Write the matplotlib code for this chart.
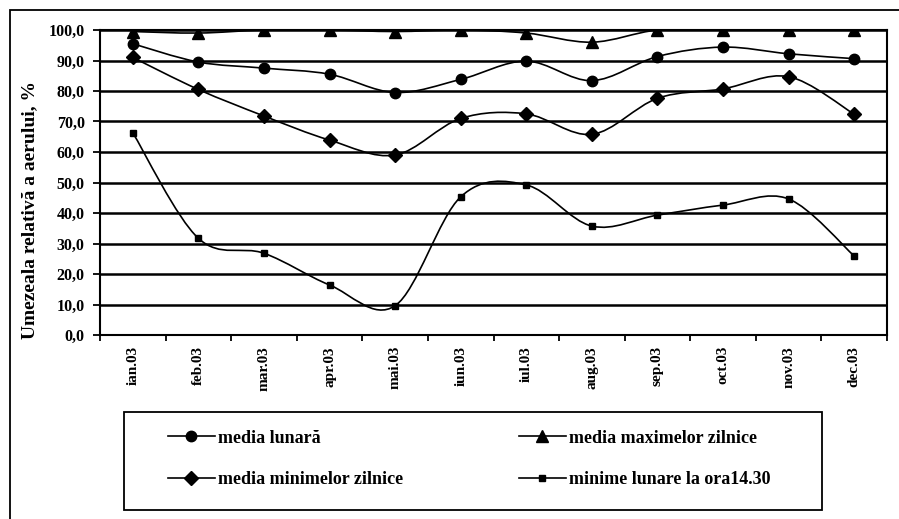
import matplotlib
matplotlib.use("Agg")
import matplotlib.pyplot as plt
import numpy as np
from matplotlib.path import Path
from matplotlib.patches import PathPatch, Rectangle
from matplotlib.lines import Line2D

luni = ["ian.03", "feb.03", "mar.03", "apr.03", "mai.03", "iun.03",
        "iul.03", "aug.03", "sep.03", "oct.03", "nov.03", "dec.03"]

media_lunara = [95.5, 89.5, 87.5, 85.5, 79.5, 83.8, 89.8, 83.4, 91.3, 94.4, 92.2, 90.6]
media_maxime = [99.5, 99.0, 100.0, 100.0, 99.5, 100.0, 99.0, 96.0, 100.0, 100.0, 100.0, 100.0]
media_minime = [91.0, 80.5, 71.8, 63.9, 59.0, 71.0, 72.5, 65.8, 77.6, 80.7, 84.7, 72.4]
minime_1430 = [66.3, 31.7, 26.8, 16.4, 9.6, 45.3, 49.2, 35.7, 39.3, 42.6, 44.6, 25.9]

y_ticks = np.arange(0, 101, 10)

FONT = "Liberation Serif"
W, H = 899, 519


def smooth_path(x, y):
    """curba netezita ca in Excel (Bezier tip Catmull-Rom)"""
    pts = np.column_stack([x, y]).astype(float)
    n = len(pts)
    verts = [pts[0]]
    codes = [Path.MOVETO]
    for i in range(n - 1):
        p0 = pts[i - 1] if i > 0 else pts[i]
        p1 = pts[i]
        p2 = pts[i + 1]
        p3 = pts[i + 2] if i + 2 < n else pts[i + 1]
        c1 = p1 + (p2 - p0) / 6.0
        c2 = p2 - (p3 - p1) / 6.0
        verts += [c1, c2, p2]
        codes += [Path.CURVE4] * 3
    return Path(verts, codes)


fig = plt.figure(figsize=(W / 100, H / 100), dpi=100)
ax = fig.add_axes([100 / W, 1 - 335 / H, 787 / W, 305 / H])

x = np.arange(len(luni))
series = [
    (media_lunara, "o", 7.5, "media lunară"),
    (media_maxime, "^", 8, "media maximelor zilnice"),
    (media_minime, "D", 7, "media minimelor zilnice"),
    (minime_1430, "s", 4.5, "minime lunare la ora14.30"),
]
handles = []
for vals, mk, ms, lab in series:
    ax.add_patch(PathPatch(smooth_path(x, vals), fill=False,
                           edgecolor="black", lw=1.2, zorder=3))
    ax.plot(x, vals, linestyle="none", marker=mk, markersize=ms,
            color="black", zorder=4)
    handles.append(Line2D([], [], color="black", lw=1.2, marker=mk,
                          markersize=ms))

ax.set_xlim(-0.5, len(luni) - 0.5)
ax.set_ylim(0, 100)
ax.set_yticks(y_ticks)
ax.set_yticklabels([f"{v:.1f}".replace(".", ",") for v in y_ticks],
                   fontfamily=FONT, fontweight="bold", fontsize=11.5)
ax.set_xticks(x)
ax.set_xticklabels(luni, rotation=90, fontfamily=FONT, fontweight="bold",
                   fontsize=11)
ax.set_xticks(np.arange(-0.5, len(luni)), minor=True)
ax.tick_params(axis="x", which="major", length=0, pad=8)
ax.tick_params(axis="x", which="minor", length=4, width=1.3, direction="out")
ax.tick_params(axis="y", length=5, width=1.3, direction="out", pad=6)
ax.yaxis.grid(True, color="black", lw=1.8)
ax.set_axisbelow(True)
for sp in ax.spines.values():
    sp.set_linewidth(1.5)
    sp.set_color("black")

ax.set_ylabel("Umezeala relativă a aerului, %", fontfamily=FONT,
              fontweight="bold", fontsize=14)
ax.yaxis.set_label_coords(-0.078, 0.41)

# legenda: doua coloane puse separat
leg_kw = dict(loc="center left", frameon=False, handlelength=2.6,
              handletextpad=0.15, labelspacing=1.35, borderpad=0,
              borderaxespad=0,
              prop={"family": FONT, "size": 13, "weight": "bold"})
fig.legend([handles[0], handles[2]], [series[0][3], series[2][3]],
           bbox_to_anchor=(168 / W, 1 - 459 / H), **leg_kw)
fig.legend([handles[1], handles[3]], [series[1][3], series[3][3]],
           bbox_to_anchor=(519 / W, 1 - 459 / H), **leg_kw)
fig.patches.append(Rectangle((124 / W, 1 - 510 / H), 698 / W, 98 / H,
                             transform=fig.transFigure, fill=False,
                             edgecolor="black", lw=1.3))

# chenarul exterior
fig.patches.append(Rectangle((10 / W, -0.1), 1.0, 1 - 10 / H + 0.1,
                             transform=fig.transFigure, fill=False,
                             edgecolor="black", lw=1.3))

fig.savefig("out.png", dpi=100)
